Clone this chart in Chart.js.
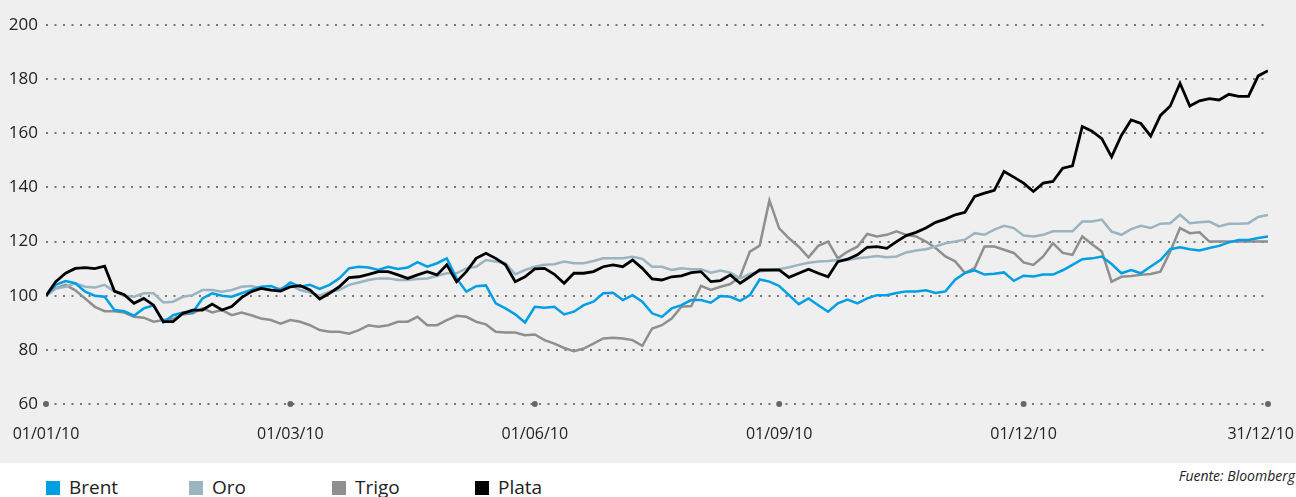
<!DOCTYPE html>
<html lang="es">
<head>
<meta charset="utf-8">
<script src="https://cdn.jsdelivr.net/npm/chart.js@4.4.1/dist/chart.umd.min.js"></script>
<style>
  html, body { margin: 0; padding: 0; background: #fff; }
  body { width: 1296px; height: 497px; position: relative; overflow: hidden; font-family: 'Open Sans', sans-serif; color: #222; }
  #plot { position: absolute; left: 0; top: 0; width: 1296px; height: 463px; background: #efefef; }
  #legend { position: absolute; left: 46px; top: 478px; display: flex; }
  .item { width: 143px; display: flex; align-items: center; font-size: 19px; line-height: 19px; }
  .item span { display: inline-block; width: 14px; height: 14px; margin-right: 9px; }
  #source { position: absolute; right: 1px; top: 469px; font-style: italic; font-size: 14px; line-height: 14px; }
</style>
</head>
<body>
<div id="plot"><canvas id="chart" width="1296" height="463"></canvas></div>
<div id="legend"></div>
<div id="source">Fuente: Bloomberg</div>
<script>
const dateLabels = ['01/01/10', '01/03/10', '01/06/10', '01/09/10', '01/12/10', '31/12/10'];

const brent = [
  100, 104, 105.4, 104.6, 101.5, 100, 99.6, 94.7, 94.3, 92.6, 95.3, 96.5, 90.1, 92.8, 93.8, 93.8, 99, 100.9, 100, 99.6, 100.9, 102.1,
  103.3, 103.6, 102.1, 104.9, 103.3, 104, 102.5, 104, 106.4, 110.1, 110.7, 110.4, 109.5, 110.7, 109.9, 110.4, 112.4, 110.7, 112, 113.8, 106.4,
  101.5, 103.5, 103.8, 97.2, 95.3, 93.1, 90.1, 95.9, 95.6, 95.9, 93.1, 94.1, 96.5, 97.8, 100.9, 101.1, 98.4, 100.2, 97.8, 93.5, 92.2, 95.3,
  96.5, 98.4, 98.4, 97.4, 99.9, 99.6, 98.1, 100.2, 106, 105.2, 103.6, 100.2, 96.9, 99, 96.5, 94.1, 97.2, 98.6, 97.2, 99, 100.2, 100.2,
  101, 101.6, 101.6, 102, 101, 101.6, 105.9, 108.4, 109.4, 107.8, 108.1, 108.6, 105.5, 107.4, 107.1, 107.8, 107.8, 109.4, 111.4, 113.5,
  113.8, 114.5, 111.7, 108.3, 109.5, 108.3, 110.8, 113.2, 117.2, 117.9, 117.2, 116.7, 117.6, 118.4, 119.7, 120.6, 120.6, 121.3, 121.9,
];

const oro = [
  100, 102.7, 103.3, 104.6, 103.3, 103, 104, 101.5, 100, 99.6, 100.9, 100.9, 97.5, 97.8, 99.6, 100.2, 102.1, 102.1, 101.5, 102.1, 103.3, 103.6,
  102.7, 102.1, 102.7, 104, 102.1, 101.2, 100, 101.5, 102.1, 104, 104.9, 105.8, 106.4, 106.4, 105.8, 105.8, 106.2, 106.4, 107.4, 108.3, 108.3,
  110.1, 110.7, 113.2, 112.6, 112, 107.9, 109.5, 110.7, 111.4, 111.6, 112.6, 112, 112, 112.8, 113.8, 113.8, 113.8, 114.4, 113.6, 110.7, 110.7, 109.5,
  110.1, 109.8, 109.8, 108.5, 109.3, 108.5, 106.4, 108, 108.9, 109.5, 109.8, 110.5, 111.4, 112.2, 112.6, 112.8, 113.2, 113.2, 113.8, 114.2, 114.7, 114.2,
  114.5, 116, 116.7, 117.2, 118.2, 119.4, 120, 120.7, 123.1, 122.5, 124.4, 125.8, 125, 122.2, 121.9, 122.5, 123.8, 123.8, 123.8, 127.4,
  127.4, 128.1, 123.7, 122.5, 124.6, 125.8, 125, 126.6, 126.8, 129.9, 126.8, 127.1, 127.4, 125.6, 126.6, 126.6, 126.8, 129.1, 129.8,
];

const trigo = [
  100, 102.7, 104, 102, 99, 95.9, 94.3, 94.3, 93.8, 92.2, 91.9, 90.4, 91, 91.4, 93.1, 93.5, 95.3, 93.8, 94.7, 92.8, 93.8, 92.8,
  91.6, 91, 89.7, 91, 90.4, 89.1, 87.3, 86.7, 86.7, 86, 87.3, 89.1, 88.5, 89.1, 90.4, 90.4, 92.2, 89.1, 89.1, 91, 92.6,
  92.2, 90.4, 89.4, 86.7, 86.4, 86.4, 85.4, 85.7, 83.6, 82.3, 80.7, 79.5, 80.5, 82.3, 84.2, 84.5, 84.2, 83.6, 81.5, 87.9, 89.1, 91.6,
  95.9, 96.2, 103.6, 102.1, 103.3, 104.3, 107, 116.3, 118.5, 135.2, 124.9, 121.2, 118.1, 114.2, 118.4, 120, 113.8, 116.3, 118.1, 122.8, 121.9, 122.5,
  123.8, 122.5, 121.9, 120, 117.6, 114.5, 112.7, 108.4, 110.2, 118.2, 118.2, 117, 115.8, 112.3, 111.4, 114.5, 119.4, 115.8, 115.1, 121.9,
  119, 116.3, 105.2, 107, 107.3, 107.7, 108, 108.9, 116.3, 125, 123.1, 123.4, 120, 120, 120, 120, 120, 120, 120,
];

const plata = [
  100, 105.2, 108.3, 110.1, 110.4, 110, 110.9, 101.7, 100.4, 97.2, 99, 96.5, 90.4, 90.4, 93.5, 94.7, 94.7, 96.9, 94.7, 96, 99.3, 101.5,
  102.7, 102.1, 101.7, 103.3, 103.7, 102.1, 98.8, 100.9, 103.3, 106.7, 107, 107.9, 108.9, 108.9, 107.7, 106.4, 107.7, 108.9, 107.7, 111.4, 105.2,
  108.9, 113.8, 115.7, 113.8, 111.4, 105.2, 107, 109.9, 110.1, 107.9, 104.6, 108.3, 108.3, 108.9, 110.7, 111.4, 110.7, 113.2, 110.1, 106.2, 105.8, 107,
  107.3, 108.5, 108.9, 105.2, 105.6, 107.7, 104.6, 107, 109.5, 109.5, 109.5, 106.8, 108.3, 109.8, 108.3, 107, 112.6, 113.5, 115.1, 117.9, 118.1, 117.5,
  120, 122.2, 123.4, 125, 127.1, 128.3, 129.9, 130.8, 136.7, 137.9, 138.9, 145.9, 143.8, 141.6, 138.5, 141.6, 142.2, 147.1, 148, 162.5,
  160.8, 158, 151.3, 159.2, 164.9, 163.6, 159, 166.6, 170.1, 178.5, 170.1, 172, 172.8, 172.3, 174.4, 173.6, 173.6, 181.2, 183.1,
];

const series = [
  { label: 'Brent', data: brent, color: '#009fe3', width: 2.5, order: 1 },
  { label: 'Oro', data: oro, color: '#9bb4c1', width: 2.5, order: 2 },
  { label: 'Trigo', data: trigo, color: '#8f8f8f', width: 2.5, order: 3 },
  { label: 'Plata', data: plata, color: '#000000', width: 2.8, order: 0 },
];

const lastIndex = brent.length - 1;
const step = lastIndex / (dateLabels.length - 1);

// dots on the base line and the date labels under them
const dateAxis = {
  id: 'dateAxis',
  afterDraw(chart) {
    const { ctx, scales: { x, y } } = chart;
    const base = y.getPixelForValue(60);

    ctx.save();
    ctx.font = '16px "Open Sans"';
    ctx.textAlign = 'center';
    ctx.textBaseline = 'middle';

    dateLabels.forEach((text, k) => {
      const px = x.getPixelForValue(k * step);

      ctx.fillStyle = '#666';
      ctx.beginPath();
      ctx.arc(px, base, 3, 0, Math.PI * 2);
      ctx.fill();

      const half = ctx.measureText(text).width / 2;
      const cx = Math.min(px, chart.width - 2 - half);
      ctx.fillStyle = '#222';
      ctx.fillText(text, cx, base + 30);
    });

    ctx.restore();
  },
};

new Chart(document.getElementById('chart'), {
  type: 'line',
  data: {
    datasets: series.map((s) => ({
      label: s.label,
      data: s.data.map((v, i) => ({ x: i, y: v })),
      borderColor: s.color,
      borderWidth: s.width,
      order: s.order,
      pointRadius: 0,
      tension: 0,
      fill: false,
    })),
  },
  options: {
    responsive: false,
    animation: false,
    devicePixelRatio: 1,
    layout: { padding: { top: 25, right: 28, left: 0, bottom: 0 } },
    plugins: { legend: { display: false }, tooltip: { enabled: false } },
    scales: {
      x: {
        type: 'linear',
        min: 0,
        max: lastIndex,
        ticks: { display: false },
        grid: { display: false },
        border: { display: false },
        afterFit: (scale) => { scale.height = 59; },
      },
      y: {
        min: 60,
        max: 200,
        ticks: {
          stepSize: 20,
          padding: 8,
          color: '#222',
          font: { family: 'Open Sans', size: 17 },
        },
        grid: { color: '#777', lineWidth: 2, drawTicks: false },
        border: { display: false, dash: [2, 6.5] },
        afterFit: (scale) => { scale.width = 46; },
      },
    },
  },
  plugins: [dateAxis],
});

const legend = document.getElementById('legend');
for (const s of series) {
  const item = document.createElement('div');
  item.className = 'item';
  item.innerHTML = `<span style="background:${s.color}"></span>${s.label}`;
  legend.append(item);
}
</script>
</body>
</html>
